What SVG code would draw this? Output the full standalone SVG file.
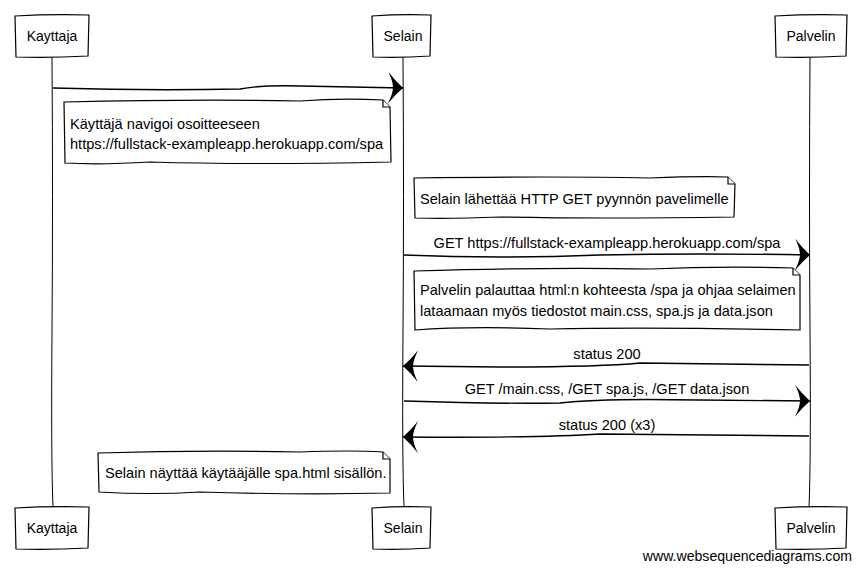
<svg xmlns="http://www.w3.org/2000/svg" width="861" height="572" viewBox="0 0 861 572">
<style>
text{font-family:"Liberation Sans",Arial,sans-serif;font-size:14.6px;fill:#000}
.act{font-size:14px}
.foot{font-size:14.1px;text-anchor:end}
.box{fill:#fff;stroke:#000;stroke-width:1.2}
.life{fill:none;stroke:#000;stroke-width:1}
.msg{fill:none;stroke:#000;stroke-width:1.4}
.mid{text-anchor:middle}
</style>
<defs>
<marker id="ah" markerUnits="userSpaceOnUse" markerWidth="20" markerHeight="34" refX="16" refY="16" orient="auto">
<path d="M1,0 Q8,9 16,16 Q8,23 1,32 Q6,22 6,16 Q6,10 1,0 Z" fill="#000"/>
</marker>
</defs>
<g id="lifelines">
<path class="life" d="M52,57 Q53,200 52,330 T53,507"/>
<path class="life" d="M403,57 Q404,200 403,330 T404,507"/>
<path class="life" d="M810,57 Q809,200 810,330 T809,507"/>
</g>
<g id="Kayttaja-top"><path class="box" d="M15,16 Q50,14 89,15 L88,56 Q50,58 16,57 Z"/><text x="52" y="41" class="mid act">Kayttaja</text></g>
<g id="Selain-top"><path class="box" d="M372,16 Q400,14 431,15 L430,56 Q400,58 373,57 Z"/><text x="403" y="41" class="mid act">Selain</text></g>
<g id="Palvelin-top"><path class="box" d="M775,16 Q810,14 847,15 L846,56 Q810,58 776,57 Z"/><text x="811" y="41" class="mid act">Palvelin</text></g>
<g id="Kayttaja-bottom"><path class="box" d="M15,508 Q50,506 89,507 L88,548 Q50,550 16,549 Z"/><text x="52" y="533" class="mid act">Kayttaja</text></g>
<g id="Selain-bottom"><path class="box" d="M372,508 Q400,506 431,507 L430,548 Q400,550 373,549 Z"/><text x="403" y="533" class="mid act">Selain</text></g>
<g id="Palvelin-bottom"><path class="box" d="M775,508 Q810,506 847,507 L846,548 Q810,550 776,549 Z"/><text x="811" y="533" class="mid act">Palvelin</text></g>
<g id="connectors">
<path class="msg" marker-end="url(#ah)" d="M53,88 Q150,91 240,89 Q260,85 300,86 L403,88"/>
<path class="msg" marker-end="url(#ah)" d="M404,255 Q500,259 600,255 Q700,253 810,255"/>
<path class="msg" marker-end="url(#ah)" d="M809,365 Q720,364 640,363 Q600,367 500,367 L403,366"/>
<path class="msg" marker-end="url(#ah)" d="M404,401 Q500,404 560,403 Q600,398 700,400 L810,401"/>
<path class="msg" marker-end="url(#ah)" d="M809,436 Q700,435 600,434 Q540,438 403,437"/>
</g>
<g id="labels">
<text x="607" y="248" class="mid">GET https://fullstack-exampleapp.herokuapp.com/spa</text>
<text x="607" y="359" class="mid">status 200</text>
<text x="607" y="394" class="mid">GET /main.css, /GET spa.js, /GET data.json</text>
<text x="607" y="430" class="mid">status 200 (x3)</text>
</g>
<g id="note1"><path class="box" d="M64,102 Q200,99 300,101 Q340,98 383,100 L390,107 L391,162 Q250,165 150,162 Q100,165 65,163 Z"/><path class="box" d="M383,100 L383,107 L390,107" fill="none"/><text x="70" y="129">Käyttäjä navigoi osoitteeseen</text><text x="70" y="149">https://fullstack-exampleapp.herokuapp.com/spa</text></g>
<g id="note2"><path class="box" d="M414,178 Q550,176 650,178 Q700,176 728,177 L735,184 L734,217 Q600,219 500,217 Q450,219 415,218 Z"/><path class="box" d="M728,177 L728,184 L735,184" fill="none"/><text x="420" y="204">Selain lähettää HTTP GET pyynnön pavelimelle</text></g>
<g id="note3"><path class="box" d="M414,271 Q550,267 650,269 Q720,266 793,268 L800,275 L800,330 Q650,327 550,329 Q470,326 415,330 Z"/><path class="box" d="M793,268 L793,275 L800,275" fill="none"/><text x="420" y="295">Palvelin palauttaa html:n kohteesta /spa ja ohjaa selaimen</text><text x="420" y="316">lataamaan myös tiedostot main.css, spa.js ja data.json</text></g>
<g id="note4"><path class="box" d="M98,453 Q200,450 300,452 Q350,450 383,452 L390,459 L390,493 Q300,495 200,492 Q150,495 99,492 Z"/><path class="box" d="M383,452 L383,459 L390,459" fill="none"/><text x="105" y="478">Selain näyttää käytääjälle spa.html sisällön.</text></g>
<text x="852" y="561" class="foot">www.websequencediagrams.com</text>
</svg>
